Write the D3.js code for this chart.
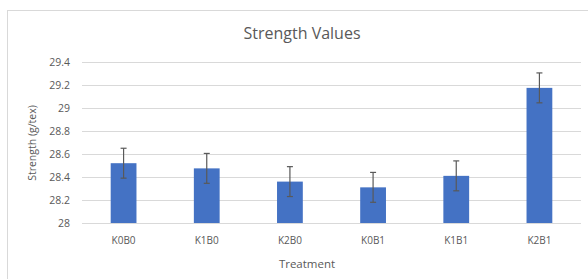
<!DOCTYPE html>
<html lang="en">
<head>
  <meta charset="UTF-8">
  <title>Strength Values</title>
  <script src="https://d3js.org/d3.v7.min.js"></script>
  <style>
    body, html { margin: 0; padding: 0; overflow: hidden; background: #fff; }
    text { font-family: "Open Sans", sans-serif; fill: #595959; }
  </style>
</head>
<body>
  <script>
    // data
    const treatments = ["K0B0", "K1B0", "K2B0", "K0B1", "K1B1", "K2B1"];
    const strength = [28.52, 28.475, 28.36, 28.31, 28.41, 29.175];
    const errors = [0.13, 0.13, 0.13, 0.13, 0.13, 0.13];
    const yTicks = [28, 28.2, 28.4, 28.6, 28.8, 29, 29.2, 29.4];

    const width = 588, height = 279;
    const margin = { top: 62, right: 7, bottom: 56, left: 82 };

    const svg = d3.select("body").append("svg")
      .attr("width", width)
      .attr("height", height);

    // chart frame
    svg.append("rect")
      .attr("x", 7.5).attr("y", 10.5)
      .attr("width", 600).attr("height", 300)
      .attr("fill", "none")
      .attr("stroke", "#d9d9d9");

    const x = d3.scaleBand()
      .domain(treatments)
      .range([margin.left, width - margin.right])
      .paddingInner(0.69)
      .paddingOuter(0.345);

    const y = d3.scaleLinear()
      .domain([28, 29.4])
      .range([height - margin.bottom, margin.top]);

    // gridlines
    svg.append("g")
      .selectAll("line")
      .data(yTicks)
      .join("line")
      .attr("x1", margin.left)
      .attr("x2", width - margin.right)
      .attr("y1", d => Math.round(y(d)) + 0.5)
      .attr("y2", d => Math.round(y(d)) + 0.5)
      .attr("stroke", "#d9d9d9");

    // y tick labels
    svg.append("g")
      .selectAll("text")
      .data(yTicks)
      .join("text")
      .attr("x", margin.left - 12)
      .attr("y", d => y(d))
      .attr("dy", "0.35em")
      .attr("text-anchor", "end")
      .attr("font-size", "10.5px")
      .text(d => d);

    // bars
    svg.append("g")
      .selectAll("rect")
      .data(treatments)
      .join("rect")
      .attr("x", d => x(d))
      .attr("width", x.bandwidth())
      .attr("y", (d, i) => y(strength[i]))
      .attr("height", (d, i) => y(28) - y(strength[i]))
      .attr("fill", "#4472c4");

    // error bars
    const err = svg.append("g")
      .attr("stroke", "#595959")
      .attr("stroke-width", 1.2);
    treatments.forEach((t, i) => {
      const cx = x(t) + x.bandwidth() / 2;
      const top = y(strength[i] + errors[i]);
      const bot = y(strength[i] - errors[i]);
      err.append("line").attr("x1", cx).attr("x2", cx).attr("y1", top).attr("y2", bot);
      err.append("line").attr("x1", cx - 3).attr("x2", cx + 3).attr("y1", top).attr("y2", top);
      err.append("line").attr("x1", cx - 3).attr("x2", cx + 3).attr("y1", bot).attr("y2", bot);
    });

    // x labels
    svg.append("g")
      .selectAll("text")
      .data(treatments)
      .join("text")
      .attr("x", d => x(d) + x.bandwidth() / 2)
      .attr("y", y(28) + 17)
      .attr("dy", "0.35em")
      .attr("text-anchor", "middle")
      .attr("font-size", "10px")
      .text(d => d);

    // titles
    svg.append("text")
      .attr("x", 302)
      .attr("y", 33)
      .attr("dy", "0.35em")
      .attr("text-anchor", "middle")
      .attr("font-size", "16px")
      .text("Strength Values");

    svg.append("text")
      .attr("x", 307)
      .attr("y", 264)
      .attr("dy", "0.35em")
      .attr("text-anchor", "middle")
      .attr("font-size", "11.5px")
      .text("Treatment");

    svg.append("text")
      .attr("transform", "translate(32,143) rotate(-90)")
      .attr("dy", "0.35em")
      .attr("text-anchor", "middle")
      .attr("font-size", "10.5px")
      .text("Strength (g/tex)");
  </script>
</body>
</html>
